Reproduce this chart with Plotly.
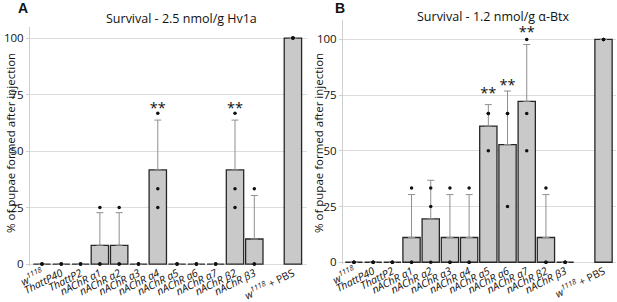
import plotly.graph_objects as go

categories = ["<i>w</i><sup><i>1118</i></sup>", "<i>ThattP40</i>", "<i>ThattP2</i>",
              "<i>nAChR α1</i>", "<i>nAChR α2</i>", "<i>nAChR α3</i>", "<i>nAChR α4</i>",
              "<i>nAChR α5</i>", "<i>nAChR α6</i>", "<i>nAChR α7</i>", "<i>nAChR β2</i>",
              "<i>nAChR β3</i>", " ", "<i>w</i><sup><i>1118</i></sup> + PBS"]

# Panel A: 2.5 nmol/g Hv1a
hv_mean = [0, 0, 0, 8.33, 8.33, 0, 41.67, 0, 0, 0, 41.67, 11.11, None, 100]
hv_sd = [None, None, None, 14.43, 14.43, None, 22.05, None, None, None, 22.05, 19.25, None, None]
hv_points = [[0, 0, 0], [0, 0, 0], [0, 0, 0], [25, 0, 0], [25, 0, 0], [0, 0, 0],
             [66.7, 33.3, 25], [0, 0, 0], [0, 0, 0], [0, 0, 0], [66.7, 33.3, 25],
             [33.3, 0, 0], [], [100, 100, 100]]
hv_sig_cats = ["<i>nAChR α4</i>", "<i>nAChR β2</i>"]
hv_sig_y = [68.5, 68.5]

# Panel B: 1.2 nmol/g alpha-Btx
bt_mean = [0, 0, 0, 11.11, 19.44, 11.11, 11.11, 61.11, 52.78, 72.22, 11.11, 0, None, 100]
bt_sd = [None, None, None, 19.25, 17.35, 19.25, 19.25, 9.62, 24.06, 25.46, 19.25, None, None, None]
bt_points = [[0, 0, 0], [0, 0, 0], [0, 0, 0], [33.3, 0, 0], [33.3, 25, 0], [33.3, 0, 0],
             [33.3, 0, 0], [66.7, 66.7, 50], [66.7, 66.7, 25], [100, 66.7, 50],
             [33.3, 0, 0], [0, 0, 0], [], [100, 100, 100]]
bt_sig_cats = ["<i>nAChR α5</i>", "<i>nAChR α6</i>", "<i>nAChR α7</i>"]
bt_sig_y = [75.5, 79, 102.5]

y_ticks = [0, 25, 50, 75, 100]
y_title = "% of pupae formed after injection"

FONT = "Open Sans"
BAR_FILL = "#c9c9c9"
BAR_LINE = "#262626"
ERR = "#8f8f8f"
GRID = "#dcdcdc"
TXT = "#111111"

fig = go.Figure()


def add_panel(mean, sd, points, sig_cats, sig_y, xa, ya):
    fig.add_trace(go.Bar(
        x=categories, y=mean, width=0.9,
        marker=dict(color=BAR_FILL, line=dict(color=BAR_LINE, width=1.3)),
        error_y=dict(type="data", array=sd, arrayminus=[0] * len(sd), symmetric=False,
                     color=ERR, thickness=1, width=3.5),
        xaxis=xa, yaxis=ya, showlegend=False, hoverinfo="skip"))
    px, py = [], []
    for c, pts in zip(categories, points):
        for v in pts:
            px.append(c)
            py.append(v)
    fig.add_trace(go.Scatter(
        x=px, y=py, mode="markers", marker=dict(color="#111", size=3.5),
        xaxis=xa, yaxis=ya, showlegend=False, cliponaxis=False, hoverinfo="skip"))
    fig.add_trace(go.Scatter(
        x=sig_cats, y=sig_y, mode="text", text=["**"] * len(sig_cats),
        textposition="middle center", textfont=dict(size=14.5, color="#111", family=FONT),
        xaxis=xa, yaxis=ya, showlegend=False, cliponaxis=False, hoverinfo="skip"))


add_panel(hv_mean, hv_sd, hv_points, hv_sig_cats, hv_sig_y, "x", "y")
add_panel(bt_mean, bt_sd, bt_points, bt_sig_cats, bt_sig_y, "x2", "y2")

W, H = 617, 302

xcommon = dict(type="category", categoryorder="array", categoryarray=categories,
               showgrid=False, zeroline=False, showline=False, ticks="", automargin=False,
               ticklabelstandoff=-2,
               tickangle=-27, tickfont=dict(family=FONT, size=10.5, color=TXT))
ycommon = dict(tickvals=y_ticks, showgrid=True, gridcolor=GRID, gridwidth=1,
               zeroline=False, showline=True, linecolor="#cfcfcf", linewidth=1,
               ticks="outside", ticklen=3, tickcolor="#cfcfcf", automargin=False,
               tickfont=dict(family=FONT, size=11.5, color=TXT))


def ann(text, x, y, size, angle=0, family=FONT):
    return dict(text=text, x=x / W, y=1 - y / H, xref="paper", yref="paper", showarrow=False,
                textangle=angle, font=dict(family=family, size=size, color=TXT),
                xanchor="center", yanchor="middle")


fig.update_layout(
    width=W, height=H, margin=dict(l=0, r=0, t=0, b=0, pad=0), autosize=False,
    paper_bgcolor="white", plot_bgcolor="white",
    xaxis=dict(domain=[30 / W, 307 / W], range=[-0.62, 13.73], anchor="y", **xcommon),
    yaxis=dict(domain=[0.118, 0.9106], range=[-1, 104.9], anchor="x", **ycommon),
    xaxis2=dict(domain=[343 / W, 616 / W], range=[-0.57, 13.65], anchor="y2", **xcommon),
    yaxis2=dict(domain=[0.1242, 0.9338], range=[-1, 108.7], anchor="x2", **ycommon),
    annotations=[
        ann("Survival - 2.5 nmol/g Hv1a", 181, 19, 12.5),
        ann("Survival - 1.2 nmol/g α-Btx", 493, 17, 12.5),
        ann("<b>A</b>", 23, 8, 14, family="Liberation Sans"),
        ann("<b>B</b>", 340, 8, 14, family="Liberation Sans"),
        ann(y_title, 10, 143, 11.5, angle=-90),
        ann(y_title, 318, 143, 11.5, angle=-90),
    ],
)

fig.write_html("out.html", config={"displayModeBar": False},
               post_script="document.body.style.margin='0';document.body.style.padding='0';")
